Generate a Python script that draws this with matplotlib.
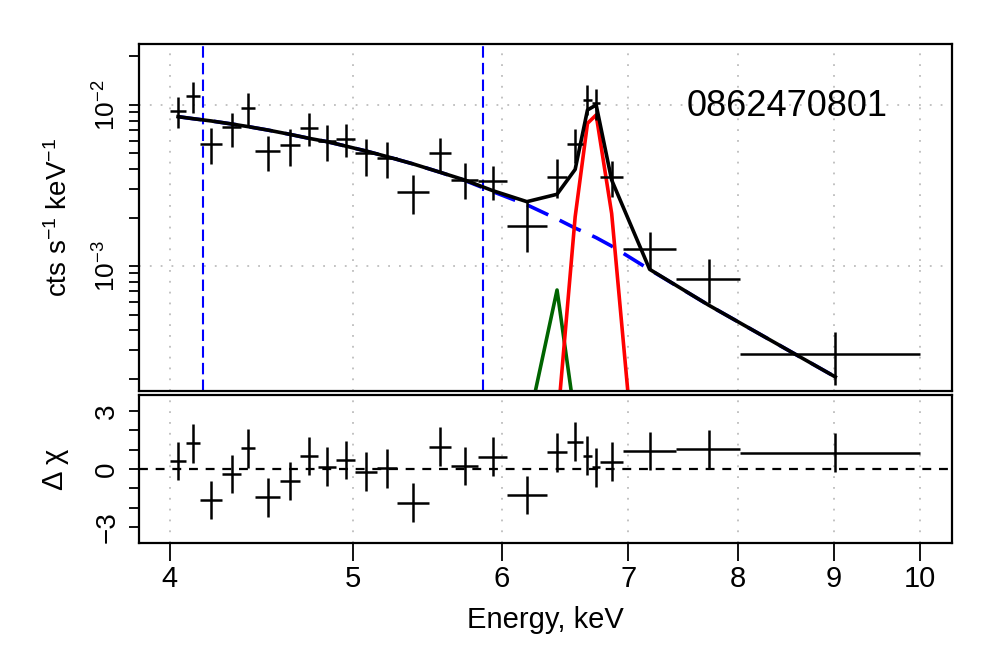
import matplotlib.pyplot as plt
import numpy as np
from matplotlib.ticker import FixedLocator, NullFormatter, NullLocator

plt.rcParams['font.family'] = ['Liberation Sans', 'DejaVu Sans']
plt.rcParams['mathtext.fontset'] = 'custom'
plt.rcParams['mathtext.rm'] = 'Liberation Sans'
plt.rcParams['mathtext.it'] = 'Liberation Sans:italic'

# energy bins (keV)
e_lo = [4.000, 4.082, 4.149, 4.266, 4.362, 4.440, 4.576, 4.689, 4.792, 4.900,
        5.015, 5.149, 5.281, 5.491, 5.638, 5.830, 6.035, 6.337, 6.499, 6.624,
        6.698, 6.766, 6.955, 7.417, 8.028]
e_hi = e_lo[1:] + [10.0]

# count rate with error bar ends (cts/s/keV)
rate = [9.18e-3, 1.137e-2, 5.70e-3, 7.27e-3, 9.54e-3, 5.18e-3, 5.64e-3, 7.23e-3,
        6.00e-3, 6.12e-3, 5.01e-3, 4.71e-3, 2.89e-3, 5.06e-3, 3.42e-3, 3.37e-3,
        1.77e-3, 3.59e-3, 5.70e-3, 1.074e-2, 1.034e-2, 3.59e-3, 1.27e-3, 8.31e-4,
        2.84e-4]
rate_low = [7.16e-3, 8.88e-3, 4.28e-3, 5.51e-3, 7.51e-3, 3.91e-3, 4.20e-3, 5.59e-3,
            4.51e-3, 4.73e-3, 3.62e-3, 3.50e-3, 2.10e-3, 3.85e-3, 2.60e-3, 2.57e-3,
            1.23e-3, 2.63e-3, 4.34e-3, 8.67e-3, 8.07e-3, 2.69e-3, 9.45e-4, 5.86e-4,
            1.82e-4]
rate_high = [1.127e-2, 1.383e-2, 7.16e-3, 8.88e-3, 1.182e-2, 6.42e-3, 7.06e-3, 8.96e-3,
             7.51e-3, 7.59e-3, 6.15e-3, 5.92e-3, 3.67e-3, 6.27e-3, 4.34e-3, 4.20e-3,
             2.57e-3, 4.62e-3, 7.06e-3, 1.331e-2, 1.257e-2, 4.49e-3, 1.63e-3, 1.105e-3,
             3.87e-4]

# model components
model_total = [8.46e-3, 8.22e-3, 7.96e-3, 7.62e-3, 7.34e-3, 6.99e-3, 6.57e-3, 6.21e-3,
               5.92e-3, 5.56e-3, 5.18e-3, 4.78e-3, 4.30e-3, 3.82e-3, 3.42e-3, 2.94e-3,
               2.51e-3, 2.79e-3, 3.98e-3, 9.31e-3, 1.0e-2, 3.42e-3, 9.54e-4, 5.72e-4,
               2.05e-4]
continuum = [8.46e-3, 8.22e-3, 7.96e-3, 7.62e-3, 7.34e-3, 6.99e-3, 6.57e-3, 6.21e-3,
             5.92e-3, 5.56e-3, 5.18e-3, 4.78e-3, 4.30e-3, 3.82e-3, 3.40e-3, 2.90e-3,
             2.40e-3, 1.96e-3, 1.72e-3, 1.59e-3, 1.50e-3, 1.33e-3, 9.50e-4, 5.72e-4,
             2.05e-4]
fe25_bins = [17, 18, 19, 20, 21, 22]
fe25 = [9.9e-5, 2.02e-3, 7.69e-3, 8.67e-3, 2.12e-3, 5.4e-6]
fe_ka_bins = [16, 17, 18]
fe_ka = [9.5e-5, 7.1e-4, 1.12e-4]

# residuals (sigma)
resid = [0.41, 1.33, -1.60, -0.26, 1.07, -1.47, -0.62, 0.67, 0.12, 0.47,
         -0.14, 0.03, -1.74, 1.16, 0.16, 0.64, -1.35, 0.86, 1.41, 0.69,
         0.09, 0.38, 0.93, 1.02, 0.84]

region = [4.167, 5.86]
obsid = '0862470801'
xticks = [4, 5, 6, 7, 8, 9, 10]

e_lo = np.array(e_lo); e_hi = np.array(e_hi)
ec = (e_lo + e_hi) / 2
rate = np.array(rate)
xerr = [ec - e_lo, e_hi - ec]
yerr = [rate - np.array(rate_low), np.array(rate_high) - rate]

fig = plt.figure(figsize=(9.96, 6.64), dpi=100)
ax1 = fig.add_axes([0.1396, 0.4111, 0.8159, 0.5226])
ax2 = fig.add_axes([0.1396, 0.1827, 0.8159, 0.2217])

dot = (0, (1, 5))
gridcol = '#bdbdbd'
for ax in (ax1, ax2):
    ax.set_xscale('log')
    ax.set_xlim(3.853, 10.39)
    ax.xaxis.set_major_locator(FixedLocator(xticks))
    ax.xaxis.set_minor_locator(NullLocator())
    for s in ax.spines.values():
        s.set_linewidth(1.6)
    for x in xticks:
        ax.axvline(x, color=gridcol, lw=1.3, ls=dot, zorder=0)

# top panel: spectrum
ax1.set_yscale('log')
ax1.set_ylim(1.675e-4, 2.39e-2)
for y in (1e-3, 1e-2):
    ax1.axhline(y, color=gridcol, lw=1.3, ls=dot, zorder=0)
for x in region:
    ax1.axvline(x, color='blue', lw=1.5, ls=(0, (5.5, 2.5)), zorder=1)

ax1.errorbar(ec, rate, xerr=xerr, yerr=yerr, fmt='none', ecolor='black',
             elinewidth=1.8, capsize=0, zorder=3)
ax1.plot(ec, continuum, color='blue', lw=2.6, ls=(0, (6.5, 3.5)), zorder=2)
ax1.plot(ec[fe_ka_bins], fe_ka, color='#006400', lw=2.6, zorder=2)
ax1.plot(ec[fe25_bins], fe25, color='red', lw=2.6, zorder=2)
ax1.plot(ec, model_total, color='black', lw=2.6, zorder=4)
ax1.text(8.5, 0.0098, obsid, fontsize=26, ha='center', va='center')

ax1.yaxis.set_major_locator(FixedLocator([1e-3, 1e-2]))
ax1.yaxis.set_minor_locator(FixedLocator([m * d for d in (1e-4, 1e-3, 1e-2) for m in range(2, 10)]))
ax1.yaxis.set_minor_formatter(NullFormatter())
ax1.set_yticklabels([r'$10^{-3}$', r'$10^{-2}$'], rotation=90, va='center', fontsize=19)
ax1.tick_params(axis='y', which='both', length=7.5, width=1.3, pad=6)
ax1.tick_params(axis='x', length=0, labelbottom=False)

# bottom panel: residuals
ax2.set_ylim(-3.81, 3.80)
ax2.axhline(0, color='black', lw=1.6, ls=(0, (4, 3.5)), zorder=2)
ax2.errorbar(ec, resid, xerr=xerr, yerr=1, fmt='none', ecolor='black',
             elinewidth=1.8, capsize=0, zorder=3)
ax2.set_yticks([-3, 0, 3])
ax2.set_yticks([-2, -1, 1, 2], minor=True)
ax2.set_yticklabels(['\u22123', '0', '3'], rotation=90, va='center', fontsize=20)
ax2.tick_params(axis='y', which='both', length=7.5, width=1.3, pad=6)
ax2.set_xticklabels([str(x) for x in xticks], fontsize=21)
ax2.tick_params(axis='x', length=13, width=1.3, pad=3)

fig.text(59 / 996, 1 - 217 / 664, r'cts s$^{-1}$ keV$^{-1}$', rotation=90,
         ha='center', va='center', fontsize=20)
fig.text(55 / 996, 1 - 469 / 664, 'Δ χ', rotation=90, ha='center', va='center', fontsize=21)
fig.text(545 / 996, 1 - 620 / 664, 'Energy, keV', ha='center', va='center', fontsize=21)

fig.savefig('out.png', dpi=100)
